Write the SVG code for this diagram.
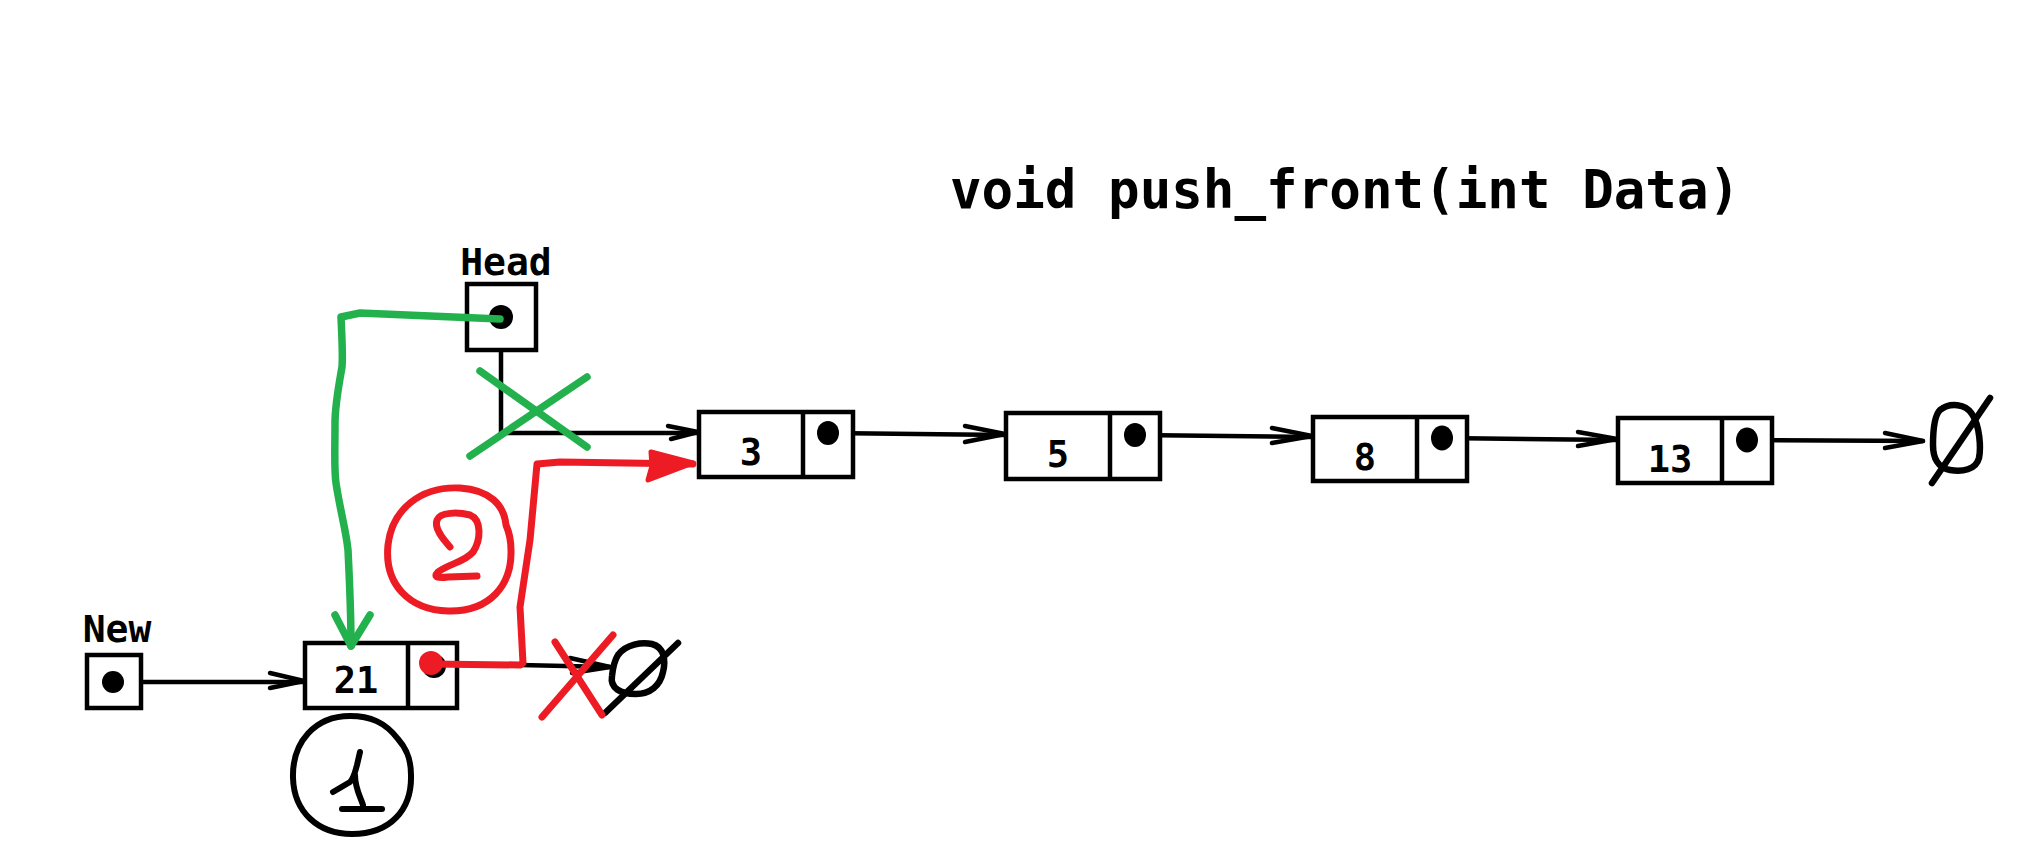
<svg xmlns="http://www.w3.org/2000/svg" width="2042" height="852" viewBox="0 0 2042 852">
<style>
.box{fill:#fff;stroke:#000;stroke-width:4.5}
.div{stroke:#000;stroke-width:4.5}
.dot{fill:#000}
.num{font-family:"DejaVu Sans Mono","Liberation Mono",monospace;font-weight:bold;font-size:37px;text-anchor:middle;fill:#000}
.lbl{font-family:"DejaVu Sans Mono","Liberation Mono",monospace;font-weight:bold;font-size:38px;text-anchor:middle;fill:#000}
.title{font-family:"DejaVu Sans Mono","Liberation Mono",monospace;font-weight:bold;font-size:52.5px;fill:#000}
.ln{fill:none;stroke:#000;stroke-width:4.5;stroke-linecap:round;stroke-linejoin:round}
.nul{fill:none;stroke:#000;stroke-width:6.5;stroke-linecap:round;stroke-linejoin:round}
.g{fill:none;stroke:#22B14C;stroke-width:7.5;stroke-linecap:round;stroke-linejoin:round}
.r{fill:none;stroke:#ED1C24;stroke-width:7;stroke-linecap:round;stroke-linejoin:round}
.k{fill:none;stroke:#000;stroke-width:6;stroke-linecap:round;stroke-linejoin:round}
</style>
<rect width="2042" height="852" fill="#fff"/>
<text class="title" x="950" y="208">void push_front(int Data)</text>

<g id="connectors">
  <polyline class="ln" points="501,317 501,433 698,433"/>
  <polyline class="ln" points="668,426 698,432 671,439"/>
  <line class="ln" x1="828" y1="433" x2="1005" y2="435"/>
  <polyline class="ln" points="965,426 1005,434 965,442"/>
  <line class="ln" x1="1135" y1="435" x2="1312" y2="437"/>
  <polyline class="ln" points="1272,428 1312,436 1272,443"/>
  <line class="ln" x1="1442" y1="438" x2="1617" y2="440"/>
  <polyline class="ln" points="1578,432 1617,439 1578,446"/>
  <line class="ln" x1="1747" y1="440" x2="1923" y2="441"/>
  <polyline class="ln" points="1885,433 1923,441 1885,448"/>
  <line class="ln" x1="113" y1="682" x2="304" y2="682"/>
  <polyline class="ln" points="270,673 304,681 270,688"/>
  <line class="ln" x1="520" y1="665" x2="610" y2="667"/>
  <polyline class="ln" points="570,658 610,667 572,673"/>
</g>

<g id="head">
  <text class="lbl" x="506" y="275">Head</text>
  <rect class="box" x="467" y="284" width="69" height="66"/>
  <circle class="dot" cx="501" cy="317" r="12"/>
</g>
<g id="new">
  <text class="lbl" x="117" y="642">New</text>
  <rect class="box" x="87" y="655" width="54" height="53"/>
  <circle class="dot" cx="113" cy="682" r="11"/>
</g>

<g id="node-21">
  <rect class="box" x="305" y="643" width="152" height="65"/>
  <line class="div" x1="408" y1="643" x2="408" y2="708"/>
  <text class="num" x="356" y="693">21</text>
  <circle class="dot" cx="434" cy="666" r="12"/>
</g>
<g id="node-3">
  <rect class="box" x="699" y="412" width="154" height="65"/>
  <line class="div" x1="803" y1="412" x2="803" y2="477"/>
  <text class="num" x="751" y="465">3</text>
  <ellipse class="dot" cx="828" cy="433" rx="11" ry="12"/>
</g>
<g id="node-5">
  <rect class="box" x="1006" y="413" width="154" height="66"/>
  <line class="div" x1="1110" y1="413" x2="1110" y2="479"/>
  <text class="num" x="1058" y="467">5</text>
  <ellipse class="dot" cx="1135" cy="435" rx="11" ry="12"/>
</g>
<g id="node-8">
  <rect class="box" x="1313" y="417" width="154" height="64"/>
  <line class="div" x1="1417" y1="417" x2="1417" y2="481"/>
  <text class="num" x="1365" y="470">8</text>
  <ellipse class="dot" cx="1442" cy="438" rx="11" ry="12.5"/>
</g>
<g id="node-13">
  <rect class="box" x="1618" y="418" width="154" height="65"/>
  <line class="div" x1="1722" y1="418" x2="1722" y2="483"/>
  <text class="num" x="1670" y="472">13</text>
  <ellipse class="dot" cx="1747" cy="440" rx="11" ry="12.5"/>
</g>

<g id="null-end">
  <path class="nul" d="M1940,410 C1950,402 1966,404 1972,414 C1980,426 1981,448 1979,458 C1976,470 1962,472 1950,470 C1938,468 1933,458 1933,445 C1933,430 1934,416 1940,410 Z"/>
  <line class="nul" x1="1932" y1="483" x2="1990" y2="398"/>
</g>
<g id="null-21">
  <path class="nul" d="M618,655 C626,644 642,642 652,644 C664,647 666,660 663,672 C660,686 650,694 636,694 C620,694 610,688 612,676 C613,667 614,661 618,655 Z"/>
  <line class="nul" x1="605" y1="713" x2="678" y2="643"/>
</g>

<g id="step1-green">
  <path class="g" d="M500,319 L360,313 L341,317 C342,340 343,355 342,367 C338,390 335,405 335,423 C335,450 334,470 336,483 C340,510 346,530 348,550 C350,590 351,620 351,646"/>
  <polyline class="g" points="335,615 351,646 370,615"/>
  <line class="g" x1="480" y1="371" x2="587" y2="447"/>
  <line class="g" x1="470" y1="456" x2="587" y2="377"/>
</g>

<g id="step2-red">
  <polyline class="r" points="431,664 520,665 523,663 520,607 530,540 537,464 560,462 693,464"/>
  <path d="M651,452 L693,463 L648,480 L652,466 Z" fill="#ED1C24" stroke="#ED1C24" stroke-width="5" stroke-linejoin="round"/>
  <circle cx="431" cy="663" r="12" fill="#ED1C24"/>
  <path class="r" d="M506,525 C504,505 490,490 460,488 C420,486 392,510 388,545 C384,585 410,610 448,611 C490,612 512,585 511,550 C511,540 509,532 506,525 Z" stroke-width="6.5"/>
  <path class="r" d="M450,547 C442,538 434,528 437,520 C440,512 458,512 470,515 C482,520 481,540 473,552 C465,562 448,564 438,572 C432,578 440,578 448,577 L477,576" stroke-width="6.5"/>
  <line class="r" x1="555" y1="642" x2="602" y2="715" stroke-width="6"/>
  <line class="r" x1="613" y1="635" x2="542" y2="717" stroke-width="6"/>
</g>

<g id="step1-label">
  <path class="k" d="M398,739 C385,722 370,716 350,716 C315,716 292,742 293,778 C294,812 318,834 352,834 C390,834 412,810 411,775 C411,758 406,748 398,739 Z" stroke-width="6"/>
  <path class="k" d="M333,792 L350,782 C354,778 355,772 357,765 L360,752 M355,775 C355,788 360,796 363,805" stroke-width="6"/>
  <line class="k" x1="342" y1="809" x2="382" y2="809" stroke-width="6"/>
</g>
</svg>
